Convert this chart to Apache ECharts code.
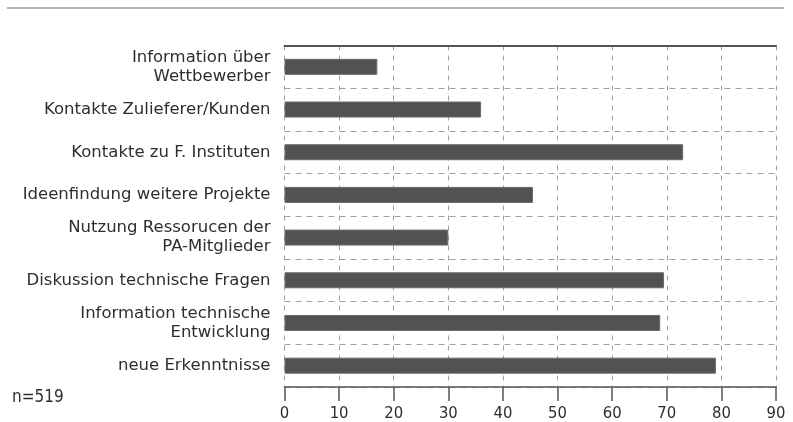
<!DOCTYPE html>
<html>
<head>
<meta charset="utf-8">
<script src="https://cdn.jsdelivr.net/npm/echarts@6/dist/echarts.min.js"></script>
<style>
  html, body { margin: 0; padding: 0; background: #fff; }
  #chart { width: 793px; height: 422px; }
</style>
</head>
<body>
<div id="chart"></div>
<script>
// Kategorien von oben nach unten
const categories = [
    "Information über\nWettbewerber",
    "Kontakte Zulieferer/Kunden",
    "Kontakte zu F. Instituten",
    "Ideenfindung weitere Projekte",
    "Nutzung Ressorucen der\nPA-Mitglieder",
    "Diskussion technische Fragen",
    "Information technische\nEntwicklung",
    "neue Erkenntnisse"
];
const values = [17, 36, 73, 45.5, 30, 69.5, 68.8, 79];
const sampleNote = "n=519";

const font = "'DejaVu Sans', sans-serif";
const condensed = "'DejaVu Sans Condensed', sans-serif";

const chart = echarts.init(document.getElementById("chart"), null, { renderer: "canvas" });

const option = {
    animation: false,
    grid: {
        left: 284.5,
        right: 17,
        top: 45.5,
        bottom: 34.5
    },
    graphic: [
        {
            type: "line",
            shape: { x1: 7, y1: 8, x2: 784, y2: 8 },
            style: { stroke: "#b4b4b4", lineWidth: 2 }
        },
        {
            type: "text",
            left: 12,
            top: 389,
            style: { text: sampleNote, font: "17px " + condensed, fill: "#2e2e2e" }
        }
    ],
    xAxis: [
        {
            type: "value",
            position: "bottom",
            min: 0,
            max: 90,
            interval: 10,
            axisLine: { show: true, lineStyle: { color: "#555", width: 1.5 } },
            axisTick: { show: true, length: 14, lineStyle: { color: "#555", width: 1.5 } },
            axisLabel: { margin: 18, color: "#2e2e2e", fontSize: 16.5, fontFamily: condensed },
            splitLine: { show: true, lineStyle: { color: "#a0a0a0", type: [5, 5], width: 1 } }
        },
        {
            type: "value",
            position: "top",
            min: 0,
            max: 90,
            interval: 10,
            axisLine: { show: true, onZero: false, lineStyle: { color: "#555", width: 2 } },
            axisTick: { show: false },
            axisLabel: { show: false },
            splitLine: { show: false }
        }
    ],
    yAxis: {
        type: "category",
        data: categories,
        inverse: true,
        axisLine: { show: false },
        axisTick: { show: false },
        axisLabel: {
            margin: 14,
            color: "#2e2e2e",
            fontSize: 16.5,
            lineHeight: 19,
            fontFamily: font,
            align: "right"
        },
        splitLine: { show: true, lineStyle: { color: "#a0a0a0", type: [6, 5], width: 1 } }
    },
    series: [
        {
            type: "bar",
            data: values,
            barWidth: 16,
            itemStyle: {
                color: "#525252",
                borderColor: "#6a6a6a",
                borderWidth: 1
            }
        }
    ]
};

chart.setOption(option);
</script>
</body>
</html>
